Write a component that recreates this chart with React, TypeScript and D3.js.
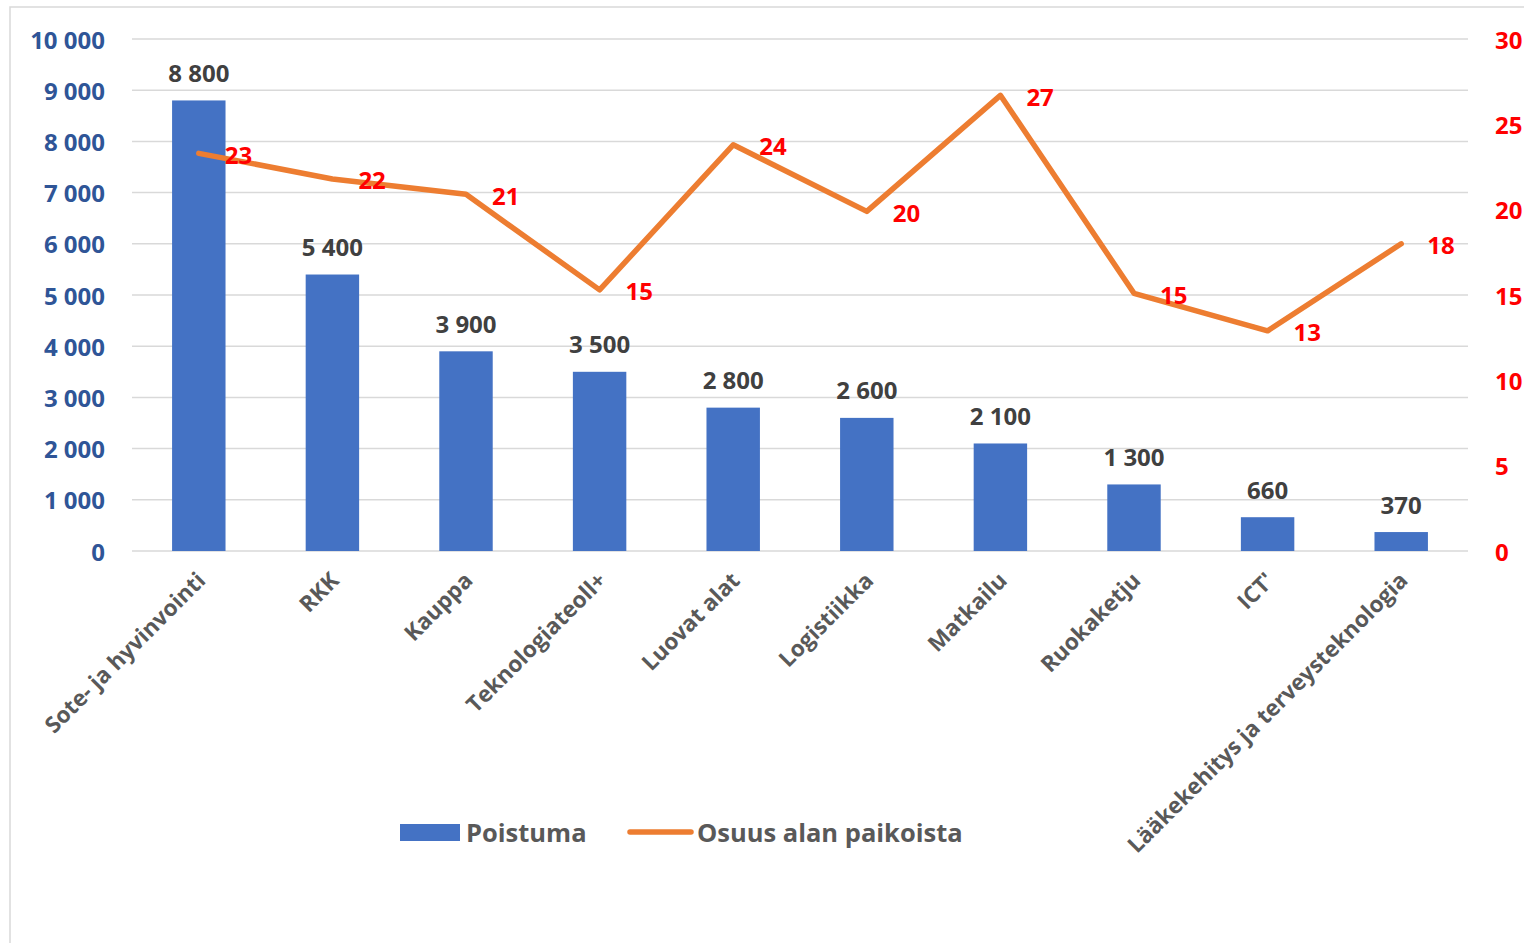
import React from "react";
import * as d3 from "d3";

const categories = [
  "Sote- ja hyvinvointi",
  "RKK",
  "Kauppa",
  "Teknologiateoll+",
  "Luovat alat",
  "Logistiikka",
  "Matkailu",
  "Ruokaketju",
  "ICT'",
  "Lääkekehitys ja terveysteknologia",
];
const poistuma = [8800, 5400, 3900, 3500, 2800, 2600, 2100, 1300, 660, 370];
const osuus = [23.3, 21.8, 20.9, 15.3, 23.8, 19.9, 26.7, 15.1, 12.9, 18.0];
const leftTicks = [0, 1000, 2000, 3000, 4000, 5000, 6000, 7000, 8000, 9000, 10000];
const rightTicks = [0, 5, 10, 15, 20, 25, 30];
const seriesNames = ["Poistuma", "Osuus alan paikoista"];

const W = 1524;
const H = 943;
const plotLeft = 132;
const plotRight = 1468;
const plotTop = 39;
const plotBottom = 551;
const FONT = "'Open Sans', 'DejaVu Sans', sans-serif";

const fmt = (v: number) => {
  const s = String(Math.round(v));
  return s.replace(/\B(?=(\d{3})+(?!\d))/g, " ");
};

export default function App() {
  const x = d3
    .scaleBand<string>()
    .domain(categories)
    .range([plotLeft, plotRight])
    .paddingInner(0.6)
    .paddingOuter(0.3);
  const yL = d3.scaleLinear().domain([0, 10000]).range([plotBottom, plotTop]);
  const yR = d3.scaleLinear().domain([0, 30]).range([plotBottom, plotTop]);
  const cx = (c: string) => (x(c) as number) + x.bandwidth() / 2;

  const line = d3
    .line<number>()
    .x((_, i) => cx(categories[i]))
    .y((d) => yR(d));

  return (
    <svg
      width={W}
      height={H}
      style={{ position: "absolute", left: 0, top: 0, background: "#fff" }}
      fontFamily={FONT}
    >
      <rect x={10} y={7} width={W} height={H} fill="none" stroke="#D9D9D9" strokeWidth={1.5} />
      {leftTicks.map((t) => (
        <line
          key={"g" + t}
          x1={plotLeft}
          x2={plotRight}
          y1={yL(t)}
          y2={yL(t)}
          stroke="#D9D9D9"
          strokeWidth={1.5}
        />
      ))}
      {leftTicks.map((t) => (
        <text
          key={"l" + t}
          x={105}
          y={yL(t)}
          textAnchor="end"
          dominantBaseline="central"
          fontSize={24}
          fontWeight={700}
          fill="#2F5597"
        >
          {fmt(t)}
        </text>
      ))}
      {rightTicks.map((t) => (
        <text
          key={"r" + t}
          x={1495}
          y={yR(t)}
          textAnchor="start"
          dominantBaseline="central"
          fontSize={24}
          fontWeight={700}
          fill="#FF0000"
        >
          {t}
        </text>
      ))}
      {categories.map((c, i) => (
        <rect
          key={"b" + c}
          x={x(c)}
          y={yL(poistuma[i])}
          width={x.bandwidth()}
          height={plotBottom - yL(poistuma[i])}
          fill="#4472C4"
        />
      ))}
      {categories.map((c, i) => (
        <text
          key={"bl" + c}
          x={cx(c)}
          y={yL(poistuma[i]) - 28}
          textAnchor="middle"
          dominantBaseline="central"
          fontSize={24}
          fontWeight={700}
          fill="#404040"
        >
          {fmt(poistuma[i])}
        </text>
      ))}
      <path
        d={line(osuus) || ""}
        fill="none"
        stroke="#ED7D31"
        strokeWidth={5.5}
        strokeLinecap="round"
        strokeLinejoin="round"
      />
      {categories.map((c, i) => (
        <text
          key={"ll" + c}
          x={cx(c) + 26}
          y={yR(osuus[i]) + 1}
          textAnchor="start"
          dominantBaseline="central"
          fontSize={24}
          fontWeight={700}
          fill="#FF0000"
        >
          {Math.round(osuus[i])}
        </text>
      ))}
      {categories.map((c) => (
        <text
          key={"c" + c}
          transform={`translate(${cx(c) + 2},${576}) rotate(-45)`}
          textAnchor="end"
          dominantBaseline="central"
          fontSize={22.5}
          fontWeight={700}
          fill="#595959"
        >
          {c}
        </text>
      ))}
      <rect x={400} y={824} width={60} height={17} fill="#4472C4" />
      <text x={466} y={832} dominantBaseline="central" fontSize={25.5} fontWeight={700} fill="#595959">
        {seriesNames[0]}
      </text>
      <line x1={630} x2={691} y1={832} y2={832} stroke="#ED7D31" strokeWidth={5.5} strokeLinecap="round" />
      <text x={697} y={832} dominantBaseline="central" fontSize={25.5} fontWeight={700} fill="#595959">
        {seriesNames[1]}
      </text>
    </svg>
  );
}
